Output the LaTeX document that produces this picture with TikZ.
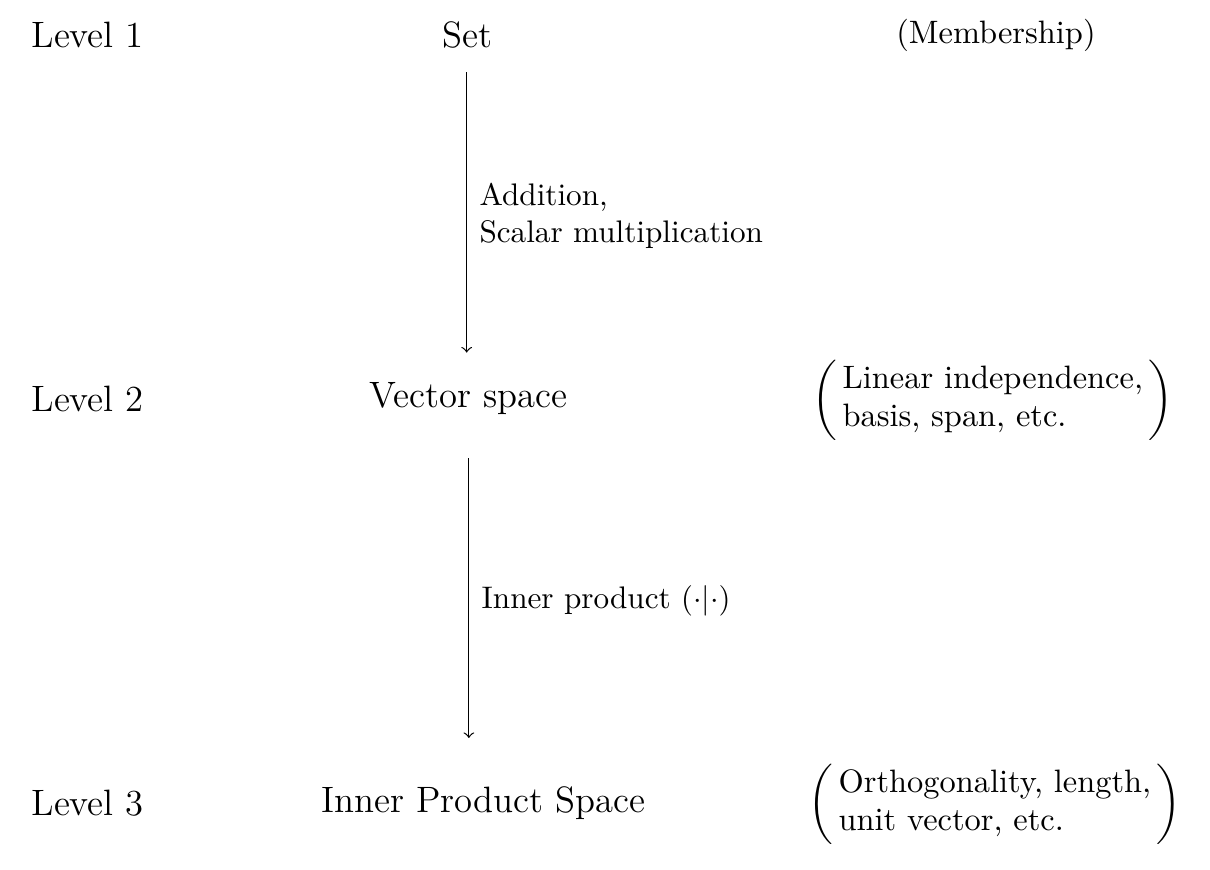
\documentclass[tikz,border=0pt,12pt]{standalone}
\usepackage{amsmath}
\begin{document}
\begin{tikzpicture}[scale=1.2]
        \useasboundingbox (0,0) rectangle (11.59,-8.33);
        % levels
        \node (lv1) at (0.84,-0.335) {Level 1};
        \node (lv2) at (0.84,-3.82) {Level 2};
        \node (lv3) at (0.84,-7.69) {Level 3};
        % structures
        \node (set) at (4.48,-0.335) {Set};
        \node (vec) at (4.49,-3.82) {Vector space};
        \node (ips) at (4.63,-7.69) {Inner Product Space};
        % notions
        \node[font=\fontsize{10.6}{12.4}\selectfont] (mem) at (9.54,-0.335) {(Membership)};
        \node[font=\fontsize{10.6}{12.4}\selectfont] (lin) at (9.51,-3.83) {$\left(\begin{tabular}{@{\,}l@{\,}}Linear independence,\\ basis, span, etc.\end{tabular}\right)$};
        \node[font=\fontsize{10.6}{12.4}\selectfont] (ort) at (9.53,-7.70) {$\left(\begin{tabular}{@{\,}l@{\,}}Orthogonality, length,\\ unit vector, etc.\end{tabular}\right)$};
        % arrows
        \draw[->,shorten <=0.13cm,shorten >=0.2cm] (set.south -| 4.47,0) -- (vec.north -| 4.47,0) node[anchor=west, midway, align=left, font=\fontsize{10.2}{12.1}\selectfont] {Addition,\\ Scalar multiplication};
        \draw[->,shorten <=0.35cm,shorten >=0.41cm] (vec.south) -- (vec.south |- ips.north) node[anchor=west, midway, font=\fontsize{10.2}{12.1}\selectfont] {Inner product $(\cdot|\cdot)$};
    \end{tikzpicture}
\end{document}
